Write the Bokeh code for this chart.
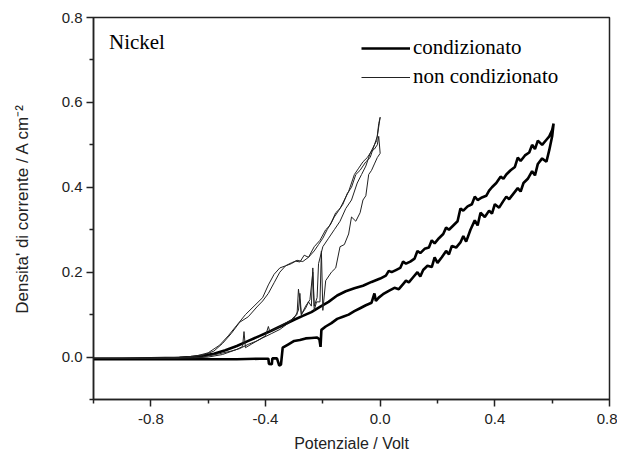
from bokeh.plotting import figure
from bokeh.models import Label, Legend, LegendItem, FixedTicker, NumeralTickFormatter
from bokeh.embed import file_html
from bokeh.resources import INLINE

# condizionato: forward scan then reverse scan (one continuous trace)
cond_x = [-1.0, -0.9, -0.8, -0.7, -0.6, -0.5, -0.42, -0.39, -0.388, -0.378, -0.376,
          -0.36, -0.352, -0.346, -0.34, -0.32, -0.3, -0.28, -0.26, -0.24, -0.22, -0.212,
          -0.208, -0.205, -0.19, -0.17, -0.15, -0.13, -0.11, -0.09, -0.07, -0.05, -0.03,
          -0.02, -0.015, -0.005, 0.01, 0.03, 0.05, 0.065, 0.08, 0.09, 0.1, 0.115, 0.13,
          0.14, 0.15, 0.165, 0.18, 0.19, 0.2, 0.215, 0.23, 0.24, 0.25, 0.265, 0.28, 0.29,
          0.3, 0.315, 0.33, 0.34, 0.35, 0.365, 0.38, 0.39, 0.4, 0.415, 0.43, 0.44, 0.45,
          0.465, 0.48, 0.49, 0.5, 0.515, 0.53, 0.54, 0.55, 0.565, 0.58, 0.59, 0.6, 0.605,
          0.6, 0.59, 0.58, 0.565, 0.55, 0.54, 0.53, 0.52, 0.505, 0.49, 0.48, 0.47, 0.455,
          0.44, 0.43, 0.42, 0.405, 0.39, 0.38, 0.37, 0.355, 0.34, 0.33, 0.32, 0.305, 0.29,
          0.28, 0.27, 0.255, 0.24, 0.23, 0.22, 0.205, 0.19, 0.18, 0.17, 0.155, 0.14, 0.13,
          0.12, 0.105, 0.09, 0.08, 0.07, 0.055, 0.04, 0.03, 0.02, 0.0, -0.03, -0.06, -0.09,
          -0.12, -0.15, -0.18, -0.21, -0.24, -0.27, -0.3, -0.34, -0.38, -0.42, -0.46, -0.5,
          -0.54, -0.58, -0.62, -0.66, -0.7, -0.8, -0.9, -1.0]
cond_y = [-0.005, -0.005, -0.005, -0.005, -0.005, -0.005, -0.004, -0.004, -0.016, -0.017, -0.003,
          -0.003, -0.02, -0.018, 0.022, 0.03, 0.038, 0.04, 0.044, 0.045, 0.046, 0.042,
          0.024, 0.064, 0.072, 0.08, 0.09, 0.095, 0.1, 0.108, 0.115, 0.122, 0.128,
          0.15, 0.132, 0.14, 0.148, 0.156, 0.163, 0.16, 0.172, 0.18, 0.176, 0.188, 0.2,
          0.19, 0.205, 0.215, 0.212, 0.235, 0.222, 0.235, 0.25, 0.242, 0.262, 0.258, 0.27,
          0.285, 0.272, 0.3, 0.322, 0.31, 0.34, 0.33, 0.345, 0.338, 0.36, 0.352, 0.368,
          0.378, 0.372, 0.385, 0.398, 0.39, 0.41, 0.42, 0.438, 0.428, 0.455, 0.468, 0.46,
          0.488, 0.52, 0.55,
          0.535, 0.52, 0.512, 0.5, 0.51, 0.49, 0.5, 0.482, 0.475, 0.462, 0.47, 0.448, 0.44,
          0.43, 0.42, 0.425, 0.41, 0.4, 0.392, 0.38, 0.376, 0.37, 0.378, 0.36, 0.355, 0.345,
          0.35, 0.32, 0.31, 0.3, 0.305, 0.29, 0.28, 0.268, 0.275, 0.258, 0.255, 0.245,
          0.25, 0.232, 0.225, 0.22, 0.225, 0.21, 0.205, 0.2, 0.203, 0.192, 0.185, 0.177,
          0.168, 0.162, 0.155, 0.145, 0.13, 0.118, 0.106, 0.097, 0.088, 0.075, 0.062,
          0.05, 0.038, 0.026, 0.016, 0.008, 0.003, 0.0, -0.002, -0.003, -0.004, -0.004]

# non condizionato: two cycles (forward, reverse, forward, reverse)
nc_x = [-1.0, -0.8, -0.65, -0.6, -0.55, -0.5, -0.48, -0.475, -0.47, -0.45, -0.42, -0.4,
        -0.39, -0.385, -0.36, -0.33, -0.3, -0.285, -0.28, -0.275, -0.26, -0.245, -0.235,
        -0.23, -0.222, -0.21, -0.205, -0.2, -0.19, -0.17, -0.155, -0.14, -0.125, -0.11,
        -0.1, -0.085, -0.07, -0.06, -0.05, -0.04, -0.03, -0.02, -0.01, 0.0,
        -0.005, -0.01, -0.02, -0.03, -0.045, -0.06, -0.075, -0.09, -0.11, -0.125, -0.14,
        -0.155, -0.17, -0.185, -0.2, -0.215, -0.23, -0.25, -0.265, -0.28, -0.295, -0.31,
        -0.33, -0.35, -0.37, -0.39, -0.41, -0.43, -0.46, -0.49, -0.52, -0.55, -0.58,
        -0.62, -0.7, -0.85, -1.0,
        -0.85, -0.7, -0.62, -0.56, -0.52, -0.49, -0.46, -0.43, -0.41, -0.38, -0.35, -0.32,
        -0.3, -0.29, -0.285, -0.275, -0.26, -0.25, -0.24, -0.235, -0.23, -0.22, -0.215,
        -0.2, -0.18, -0.16, -0.14, -0.12, -0.1, -0.08, -0.065, -0.05, -0.035, -0.02,
        -0.01, 0.0,
        -0.005, -0.012, -0.02, -0.035, -0.05, -0.07, -0.085, -0.1, -0.115, -0.13, -0.145,
        -0.16, -0.175, -0.19, -0.21, -0.23, -0.25, -0.27, -0.29, -0.31, -0.33, -0.35,
        -0.37, -0.39, -0.41, -0.44, -0.47, -0.5, -0.53, -0.56, -0.6, -0.65, -0.75, -1.0]
nc_y = [-0.003, -0.003, -0.002, 0.0, 0.006, 0.018, 0.025, 0.06, 0.022, 0.03, 0.042, 0.05,
        0.072, 0.06, 0.068, 0.08, 0.092, 0.11, 0.15, 0.1, 0.12, 0.135, 0.2, 0.11,
        0.13, 0.13, 0.25, 0.11, 0.18, 0.2, 0.21, 0.26, 0.265, 0.29, 0.33, 0.32, 0.34,
        0.37, 0.38, 0.43, 0.44, 0.455, 0.47, 0.48,
        0.52, 0.5, 0.49, 0.485, 0.47, 0.46, 0.445, 0.43, 0.39, 0.37, 0.35, 0.34, 0.318,
        0.3, 0.28, 0.265, 0.25, 0.235, 0.24, 0.224, 0.226, 0.222, 0.215, 0.2, 0.175,
        0.15, 0.132, 0.118, 0.095, 0.082, 0.055, 0.032, 0.014, 0.004, -0.002, -0.003, -0.003,
        -0.003, -0.002, 0.0, 0.008, 0.014, 0.02, 0.03, 0.038, 0.045, 0.055, 0.065, 0.08,
        0.095, 0.1, 0.16, 0.1, 0.115, 0.13, 0.12, 0.21, 0.12, 0.14, 0.22,
        0.26, 0.28, 0.3, 0.32, 0.35, 0.37, 0.41, 0.43, 0.45, 0.48, 0.5,
        0.52, 0.565,
        0.55, 0.51, 0.5, 0.47, 0.46, 0.44, 0.43, 0.4, 0.385, 0.36, 0.345,
        0.33, 0.31, 0.3, 0.275, 0.26, 0.235, 0.225, 0.228, 0.22, 0.215, 0.21,
        0.195, 0.17, 0.14, 0.12, 0.1, 0.075, 0.05, 0.028, 0.01, 0.001, -0.002, -0.003]

x_major = [-0.8, -0.4, 0.0, 0.4, 0.8]
x_minor = [-1.0, -0.6, -0.2, 0.2, 0.6]
y_major = [0.0, 0.2, 0.4, 0.6, 0.8]
y_minor = [-0.1, 0.1, 0.3, 0.5, 0.7]

p = figure(frame_width=516, frame_height=382, x_range=(-1.0, 0.8), y_range=(-0.1, 0.8),
           min_border_left=93, min_border_top=17, min_border_right=8, min_border_bottom=5,
           output_backend="svg", toolbar_location=None)
p.xgrid.visible = False
p.ygrid.visible = False
p.outline_line_color = "#222222"
p.outline_line_width = 1.5

r_cond = p.line(cond_x, cond_y, line_color="black", line_width=2.6)
r_nc = p.line(nc_x, nc_y, line_color="#222222", line_width=1)

p.xaxis.ticker = FixedTicker(ticks=x_major, minor_ticks=x_minor)
p.yaxis.ticker = FixedTicker(ticks=y_major, minor_ticks=y_minor)
p.xaxis.formatter = NumeralTickFormatter(format="0.0")
p.yaxis.formatter = NumeralTickFormatter(format="0.0")
p.xaxis.axis_label = "Potenziale / Volt"
p.yaxis.axis_label = "Densita' di corrente / A cm⁻²"
for ax in [p.xaxis[0], p.yaxis[0]]:
    ax.axis_line_color = "#222222"
    ax.axis_line_width = 1.5
    ax.major_tick_line_color = "#222222"
    ax.minor_tick_line_color = "#222222"
    ax.major_tick_line_width = 1.5
    ax.minor_tick_line_width = 1.5
    ax.major_tick_out = 7
    ax.major_tick_in = 0
    ax.minor_tick_out = 4
    ax.minor_tick_in = 0
    ax.major_label_text_font = "Liberation Sans"
    ax.major_label_text_font_size = "15px"
    ax.major_label_text_color = "#222222"
    ax.axis_label_text_font = "Liberation Sans"
    ax.axis_label_text_font_size = "16px"
    ax.axis_label_text_font_style = "normal"
    ax.axis_label_text_color = "#222222"
p.yaxis.axis_label_text_font_size = "17px"
p.xaxis.major_label_standoff = 7
p.xaxis.axis_label_standoff = 8
p.yaxis.major_label_standoff = 4
p.yaxis.axis_label_standoff = 27

legend = Legend(items=[LegendItem(label="condizionato", renderers=[r_cond]),
                       LegendItem(label="non condizionato", renderers=[r_nc])],
                location=(268, 310), glyph_width=49, glyph_height=22, label_height=22,
                label_standoff=3, spacing=4, padding=0, margin=0,
                border_line_color=None, background_fill_alpha=0,
                label_text_font="Liberation Serif", label_text_font_size="21px",
                label_text_color="black")
p.add_layout(legend)

p.add_layout(Label(x=-0.946, y=0.742, text="Nickel", text_baseline="middle",
                   text_font="Liberation Serif", text_font_size="21px", text_color="black"))

open("out.html", "w").write(file_html(p, INLINE))
